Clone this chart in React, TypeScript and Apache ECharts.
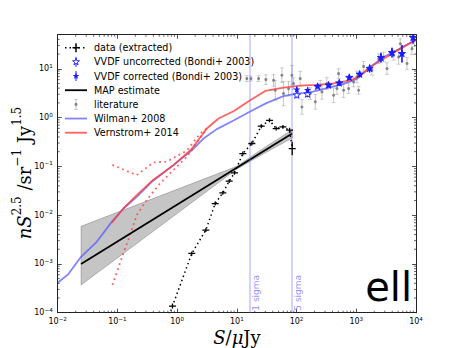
import React, { useEffect, useRef } from 'react';
import * as echarts from 'echarts';

const SANS = "'DejaVu Sans', sans-serif";
const SERIF = "'DejaVu Serif', serif";

// ---- data (extracted) : black crosses on a dotted line
const dataS = [0.38, 0.836, 1.76, 3.02, 4.33, 5.82, 7.44, 9.14, 12.6, 17.8, 25.6, 35.3, 45.6, 59, 76.4, 84.5];
const dataV = [1e-5, 1.37e-4, 1.64e-3, 4.93e-3, 0.0173, 0.0286, 0.0497, 0.0736, 0.183, 0.294, 0.665, 0.88, 0.596, 0.644, 0.551, 0.232];
const dataErr = [0.05, 0.05, 0.04, 0.04, 0.04, 0.04, 0.04, 0.04, 0.04, 0.04, 0.04, 0.04, 0.04, 0.04, 0.05, 0.14];

// ---- VVDF (Bondi+ 2003)
const vvdfS = [101, 153, 225, 344, 519, 764, 1138, 1671, 2588, 3963, 5821, 8913];
const vvdfCorr = [3.74, 3.63, 4.38, 4.6, 5.1, 6.6, 7.7, 10.1, 16.9, 21.4, 20.4, 43.5];
const vvdfUncorr = [2.87, 3.0, 4.3, 4.6, 5.1, 6.6, 7.7, 10.1, 16.9, 21.4, 20.4, 43.5];
const vvdfErr = [0.06, 0.06, 0.04, 0.04, 0.05, 0.05, 0.06, 0.08, 0.1, 0.1, 0.18, 0.12];

// ---- MAP estimate and its band
const mapS = [0.0246, 84.5];
const mapV = [1.0e-3, 0.47];
const bandS = [0.0246, 10, 30, 84.5];
const bandHi = [5.9e-3, 0.1, 0.25, 0.56];
const bandLo = [3.7e-4, 0.088, 0.19, 0.38];

// ---- literature
const litS = [14.7, 17.2, 23.1, 30.6, 41.2, 56.8, 43.9, 60.5, 73.4, 83.5, 89, 115, 123, 169, 206, 249, 266, 322, 417, 474, 506, 614, 744, 902, 1026, 1094, 1327, 1832, 2367, 2870, 3266, 4227, 5117, 5458, 7063, 8570, 9380];
const litV = [6.3, 6.3, 6.3, 6.0, 5.8, 7.4, 3.63, 3.1, 3.9, 7.4, 5.0, 6.3, 1.65, 3.1, 2.1, 4.6, 3.36, 5.0, 2.87, 3.93, 7.96, 3.63, 3.93, 5.37, 6.8, 3.63, 11.2, 9.3, 16.1, 17.5, 10.1, 18.9, 17.5, 32.7, 12.8, 25.9, 38];
const litErr = [0.06, 0.05, 0.06, 0.1, 0.12, 0.15, 0.2, 0.25, 0.15, 0.2, 0.12, 0.15, 0.15, 0.12, 0.15, 0.1, 0.15, 0.12, 0.15, 0.12, 0.1, 0.15, 0.1, 0.1, 0.12, 0.08, 0.1, 0.1, 0.1, 0.1, 0.12, 0.1, 0.15, 0.1, 0.12, 0.12, 0.12];

// ---- Wilman+ 2008
const wilS = [0.01, 0.0151, 0.0246, 0.0451, 0.0804, 0.126, 0.211, 0.376, 0.869, 1.76, 2.76, 4.62, 8.79, 16.7, 31.8, 60.5, 101, 169, 322, 614, 1026, 1718, 2871, 5458, 10000];
const wilV = [4.11e-4, 6.19e-4, 1.4e-3, 2.84e-3, 7.29e-3, 0.0137, 0.0237, 0.0482, 0.106, 0.214, 0.372, 0.58, 0.87, 1.33, 2.0, 2.75, 3.1, 3.3, 4.0, 4.9, 6.2, 10.9, 17.5, 25.9, 39.5];

// ---- Vernstrom+ 2014
const verS = [0.0804, 0.126, 0.211, 0.376, 0.869, 1.76, 3.14, 4.93, 8.79, 16.7, 29.9, 60.5, 115, 219, 417, 793, 1094, 1718, 2871, 5458, 10000];
const verV = [6.97e-3, 0.0137, 0.0257, 0.05, 0.106, 0.229, 0.596, 0.955, 1.35, 2.26, 3.52, 4.1, 4.5, 4.7, 5.0, 5.8, 6.8, 10.9, 16.1, 25.9, 39.5];
const verUpS = [0.0824, 0.21, 0.4, 0.67, 1.45, 2.43, 3.14];
const verUpV = [0.107, 0.066, 0.12, 0.125, 0.21, 0.47, 0.596];
const verLoS = [0.0824, 0.126, 0.163, 0.21, 0.31, 0.518, 0.863, 1.45, 3.14];
const verLoV = [3.7e-4, 1.65e-3, 3.9e-3, 0.01, 0.0204, 0.0449, 0.084, 0.157, 0.596];

// ---- sigma lines
const sigmaS = [16.5, 82.5];
const sigmaNames = ['1 sigma', '5 sigma'];

// ---- axes
const xMin = 0.01, xMax = 10000, yMin = 1e-4, yMax = 50;

const pairs = (a: number[], b: number[]) => a.map((v, i) => [v, b[i]]);

const minorVals = (e0: number, e1: number, maxV: number) => {
  const out: number[][] = [];
  for (let e = e0; e <= e1; e++) for (let m = 2; m <= 9; m++) {
    const v = m * Math.pow(10, e);
    if (v < maxV) out.push([v, 1]);
  }
  return out;
};

const starPts = (cx: number, cy: number, r: number) => {
  const pts: number[][] = [];
  for (let k = 0; k < 10; k++) {
    const a = -Math.PI / 2 + (k * Math.PI) / 5;
    const rr = k % 2 === 0 ? r : r * 0.4;
    pts.push([cx + rr * Math.cos(a), cy + rr * Math.sin(a)]);
  }
  return pts;
};

const fmt = (v: number) => {
  const l = Math.log10(v);
  const e = Math.round(l);
  if (Math.abs(l - e) > 1e-6) return '';
  return `{b|10}{s|${e < 0 ? '−' + -e : e}}`;
};
const labelRich = {
  b: { fontSize: 8, fontFamily: SANS, color: '#000', lineHeight: 12 },
  s: { fontSize: 5.6, fontFamily: SANS, color: '#000', verticalAlign: 'top', lineHeight: 7 },
};

const axisCommon = {
  type: 'log',
  logBase: 10,
  axisLine: { show: true, onZero: false, lineStyle: { color: '#222', width: 1 } },
  axisTick: { show: true, inside: true, length: 4, lineStyle: { color: '#222', width: 0.8 } },
  splitLine: { show: false },
  minorTick: { show: false },
};

// error bar + optional marker drawn through the axes' scales
function errSeries(name: string, S: number[], V: number[], E: number[], color: string, opts: any) {
  return {
    type: 'custom',
    name,
    clip: true,
    z: opts.z ?? 3,
    silent: true,
    encode: { x: 0, y: 1 },
    data: S.map((s, i) => [s, V[i], V[i] / Math.pow(10, E[i]), V[i] * Math.pow(10, E[i])]),
    renderItem: (params: any, api: any) => {
      const x = api.value(0), y = api.value(1);
      const p = api.coord([x, y]);
      const a = api.coord([x, api.value(2)]);
      const b = api.coord([x, api.value(3)]);
      const lw = opts.lw ?? 1;
      const children: any[] = [
        { type: 'line', shape: { x1: p[0], y1: a[1], x2: p[0], y2: b[1] }, style: { stroke: color, lineWidth: lw } },
      ];
      if (opts.cap) {
        children.push({ type: 'line', shape: { x1: p[0] - opts.cap, y1: a[1], x2: p[0] + opts.cap, y2: a[1] }, style: { stroke: color, lineWidth: 0.8 } });
        children.push({ type: 'line', shape: { x1: p[0] - opts.cap, y1: b[1], x2: p[0] + opts.cap, y2: b[1] }, style: { stroke: color, lineWidth: 0.8 } });
      }
      if (opts.arm) {
        children.push({ type: 'line', shape: { x1: p[0] - opts.arm, y1: p[1], x2: p[0] + opts.arm, y2: p[1] }, style: { stroke: color, lineWidth: lw } });
      }
      if (opts.dot) {
        children.push({ type: 'circle', shape: { cx: p[0], cy: p[1], r: opts.dot }, style: { fill: opts.dotColor ?? color } });
      }
      if (opts.star) {
        children.push({
          type: 'polygon',
          shape: { points: starPts(p[0], p[1], opts.star) },
          style: opts.open ? { fill: '#fff', stroke: color, lineWidth: 0.9 } : { fill: color },
        });
      }
      return { type: 'group', children };
    },
  };
}

const WIL = 'rgba(90,90,255,0.75)';
const VER = 'rgba(255,60,60,0.8)';
const SIG = 'rgba(110,110,255,0.38)';
const LIT = 'rgba(130,130,130,0.45)';
const LITDOT = 'rgba(110,110,110,0.8)';
const VV = '#1a1aff';

const legendRows = [
  'data (extracted)',
  'VVDF uncorrected (Bondi+ 2003)',
  'VVDF corrected (Bondi+ 2003)',
  'MAP estimate',
  'literature',
  'Wilman+ 2008',
  'Vernstrom+ 2014',
];

function legendGraphic() {
  const y0 = 47.7, dy = 14.17, x1 = 65, x2 = 87, cx = 76, tx = 94;
  const els: any[] = [];
  legendRows.forEach((t, i) => {
    const y = y0 + i * dy;
    els.push({ type: 'text', x: tx, y, style: { text: t, fontSize: 9.6, fontFamily: SANS, fill: '#000', verticalAlign: 'middle', align: 'left' }, silent: true });
    if (i === 0) {
      els.push({ type: 'line', shape: { x1, y1: y, x2, y2: y }, style: { stroke: '#000', lineWidth: 1.5, lineDash: [1.5, 3] } });
      els.push({ type: 'line', shape: { x1: cx, y1: y - 4.5, x2: cx, y2: y + 4.5 }, style: { stroke: '#000', lineWidth: 1.5 } });
      els.push({ type: 'line', shape: { x1: cx - 3.5, y1: y, x2: cx + 3.5, y2: y }, style: { stroke: '#000', lineWidth: 1.5 } });
    } else if (i === 1 || i === 2) {
      els.push({ type: 'line', shape: { x1: cx, y1: y - 5, x2: cx, y2: y + 5 }, style: { stroke: VV, lineWidth: 1 } });
      els.push({ type: 'polygon', shape: { points: starPts(cx, y, 3.6) }, style: i === 1 ? { fill: '#fff', stroke: VV, lineWidth: 0.9 } : { fill: VV } });
    } else if (i === 3) {
      els.push({ type: 'line', shape: { x1, y1: y, x2, y2: y }, style: { stroke: '#000', lineWidth: 1.8 } });
    } else if (i === 4) {
      els.push({ type: 'line', shape: { x1: cx, y1: y - 5, x2: cx, y2: y + 5 }, style: { stroke: LIT, lineWidth: 1 } });
      els.push({ type: 'line', shape: { x1: cx - 2, y1: y - 5, x2: cx + 2, y2: y - 5 }, style: { stroke: LIT, lineWidth: 0.8 } });
      els.push({ type: 'line', shape: { x1: cx - 2, y1: y + 5, x2: cx + 2, y2: y + 5 }, style: { stroke: LIT, lineWidth: 0.8 } });
      els.push({ type: 'circle', shape: { cx, cy: y, r: 1.5 }, style: { fill: LITDOT } });
    } else if (i === 5) {
      els.push({ type: 'line', shape: { x1, y1: y, x2, y2: y }, style: { stroke: WIL, lineWidth: 1.8 } });
    } else {
      els.push({ type: 'line', shape: { x1, y1: y, x2, y2: y }, style: { stroke: VER, lineWidth: 1.8 } });
    }
  });
  return els;
}

export default function App() {
  const ref = useRef<HTMLDivElement>(null);
  useEffect(() => {
    const chart = echarts.init(ref.current!, null, { renderer: 'svg' });
    const option: any = {
      animation: false,
      backgroundColor: '#fff',
      grid: { left: 57.7, right: 47, top: 34.7, bottom: 35.3, containLabel: false, outerBoundsMode: 'none' },
      xAxis: [
        { ...axisCommon, position: 'bottom', min: xMin, max: xMax, axisLabel: { show: true, formatter: fmt, rich: labelRich, margin: 3 } },
        { ...axisCommon, position: 'top', min: xMin, max: xMax, axisLabel: { show: false } },
      ],
      yAxis: [
        { ...axisCommon, position: 'left', min: yMin, max: yMax, splitNumber: 6, axisLabel: { show: true, formatter: fmt, rich: labelRich, margin: 5, showMaxLabel: false } },
        { ...axisCommon, position: 'right', min: yMin, max: yMax, splitNumber: 6, axisLabel: { show: false } },
      ],
      graphic: [
        ...legendGraphic(),
        {
          type: 'text', x: 24, y: 173, rotation: Math.PI / 2,
          style: {
            text: '{i|nS}{s|2.5}{r| /sr}{s|−1}{r| Jy}{s|1.5}',
            align: 'center', verticalAlign: 'middle',
            rich: {
              i: { fontFamily: SERIF, fontStyle: 'italic', fontSize: 18, fill: '#000', lineHeight: 26 },
              r: { fontFamily: SERIF, fontSize: 18, fill: '#000', lineHeight: 26 },
              s: { fontFamily: SERIF, fontSize: 12, fill: '#000', verticalAlign: 'top', lineHeight: 12 },
            },
          },
          silent: true,
        },
        {
          type: 'text', x: 237, y: 337,
          style: {
            text: '{i|S}{r|/}{i|μ}{r|Jy}', align: 'center', verticalAlign: 'middle',
            rich: {
              i: { fontFamily: SERIF, fontStyle: 'italic', fontSize: 18, fill: '#000' },
              r: { fontFamily: SERIF, fontSize: 18, fill: '#000' },
            },
          },
          silent: true,
        },
        {
          type: 'text', x: 412, y: 307,
          style: { text: 'ell', fontSize: 40, fontFamily: SANS, fill: '#000', align: 'right', verticalAlign: 'bottom' },
          silent: true,
        },
      ],
      series: [
        {
          type: 'custom', name: 'band', silent: true, clip: true, z: 1,
          encode: { x: 0, y: 1 },
          data: [[bandS[0], bandHi[0]]],
          renderItem: (params: any, api: any) => {
            const up = bandS.map((s, i) => api.coord([s, bandHi[i]]));
            const lo = bandS.map((s, i) => api.coord([s, bandLo[i]])).reverse();
            return {
              type: 'polygon',
              shape: { points: [...up, ...lo] },
              style: { fill: 'rgba(140,140,140,0.5)', stroke: 'rgba(90,90,90,0.6)', lineWidth: 0.6 },
            };
          },
        },
        errSeries('literature', litS, litV, litErr, LIT, { cap: 2, dot: 1.5, dotColor: LITDOT, z: 2 }),
        {
          type: 'line', name: 'Wilman+ 2008', data: pairs(wilS, wilV), symbol: 'none', z: 3, silent: true,
          lineStyle: { color: WIL, width: 1.8 },
        },
        {
          type: 'line', name: 'Vernstrom+ 2014', data: pairs(verS, verV), symbol: 'none', z: 3, silent: true,
          lineStyle: { color: VER, width: 1.8 },
        },
        {
          type: 'line', name: 'Vernstrom hi', data: pairs(verUpS, verUpV), symbol: 'none', z: 3, silent: true,
          lineStyle: { color: VER, width: 1.8, type: [1.8, 3.5] },
        },
        {
          type: 'line', name: 'Vernstrom lo', data: pairs(verLoS, verLoV), symbol: 'none', z: 3, silent: true,
          lineStyle: { color: VER, width: 1.8, type: [1.8, 3.5] },
        },
        {
          type: 'line', name: 'MAP estimate', data: pairs(mapS, mapV), symbol: 'none', z: 4, silent: true,
          lineStyle: { color: '#000', width: 1.8 },
          markLine: {
            silent: true, symbol: 'none', animation: false,
            lineStyle: { color: SIG, width: 1.6, type: 'solid' },
            label: { show: true, formatter: '{b}', position: 'insideStartBottom', color: 'rgba(110,110,255,0.75)', fontSize: 9, fontFamily: SANS, distance: 2 },
            data: sigmaS.map((s, i) => ({ xAxis: s, name: sigmaNames[i] })),
          },
        },
        errSeries('VVDF uncorrected', vvdfS, vvdfUncorr, vvdfErr, VV, { z: 5, star: 3.8, open: true }),
        errSeries('VVDF corrected', vvdfS, vvdfCorr, vvdfErr, VV, { z: 6, lw: 1.3, star: 3.8 }),
        {
          type: 'line', name: 'data (extracted)', data: pairs(dataS, dataV), symbol: 'none', z: 7, silent: true,
          lineStyle: { color: '#000', width: 1.5, type: [1.5, 3] },
        },
        errSeries('data marks', dataS, dataV, dataErr, '#000', { arm: 3.5, lw: 1.3, z: 7 }),
        {
          type: 'custom', name: 'xminor', silent: true, z: 8,
          encode: { x: 0, y: 1 },
          data: minorVals(-2, 3, xMax),
          renderItem: (params: any, api: any) => {
            const cs = params.coordSys;
            const px = api.coord([api.value(0), 1])[0];
            const yb = cs.y + cs.height;
            return {
              type: 'group', children: [
                { type: 'line', shape: { x1: px, y1: yb, x2: px, y2: yb - 2 }, style: { stroke: '#222', lineWidth: 0.7 } },
                { type: 'line', shape: { x1: px, y1: cs.y, x2: px, y2: cs.y + 2 }, style: { stroke: '#222', lineWidth: 0.7 } },
              ],
            };
          },
        },
        {
          type: 'custom', name: 'yminor', silent: true, z: 8,
          encode: { x: 1, y: 0 },
          data: minorVals(-4, 1, yMax),
          renderItem: (params: any, api: any) => {
            const cs = params.coordSys;
            const py = api.coord([1, api.value(0)])[1];
            const xr = cs.x + cs.width;
            return {
              type: 'group', children: [
                { type: 'line', shape: { x1: cs.x, y1: py, x2: cs.x + 2, y2: py }, style: { stroke: '#222', lineWidth: 0.7 } },
                { type: 'line', shape: { x1: xr, y1: py, x2: xr - 2, y2: py }, style: { stroke: '#222', lineWidth: 0.7 } },
              ],
            };
          },
        },
      ],
    };
    chart.setOption(option);
    return () => chart.dispose();
  }, []);
  return <div ref={ref} style={{ width: 463, height: 348, position: 'absolute', left: 0, top: 0 }} />;
}
